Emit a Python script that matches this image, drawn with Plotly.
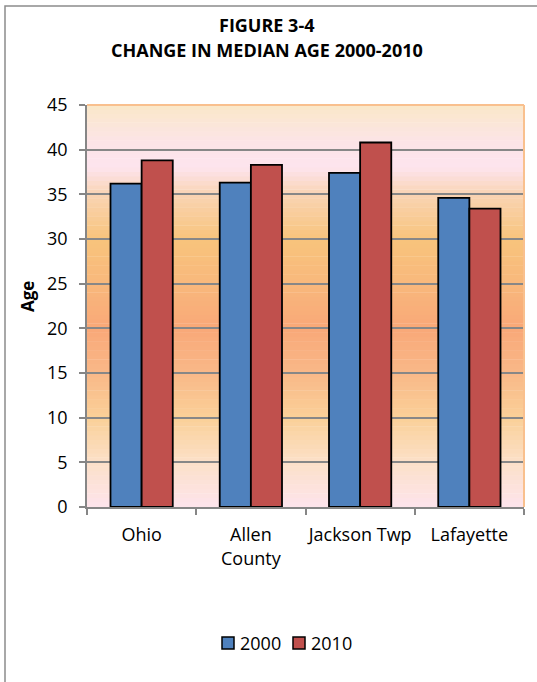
import plotly.graph_objects as go

categories = ["Ohio", "Allen<br>County", "Jackson Twp", "Lafayette"]
series_names = ["2000", "2010"]
age_2000 = [36.2, 36.3, 37.4, 34.6]
age_2010 = [38.8, 38.3, 40.8, 33.4]
y_ticks = [0, 5, 10, 15, 20, 25, 30, 35, 40, 45]

FONT = "Open Sans"
W, H = 537, 682
L, R, T, B = 87, 13, 105, 175
pw = W - L - R
ph = H - T - B
colors = ["#4F81BD", "#C0504D"]

def px_x(p):
    return (p - L) / pw

def px_y(p):
    return (H - B - p) / ph

fig = go.Figure()
for name, vals, c in zip(series_names, [age_2000, age_2010], colors):
    fig.add_trace(go.Bar(name=name, x=categories, y=vals, showlegend=False,
                         marker=dict(color=c, line=dict(color="#000000", width=1.8))))

# gradient background bands (style only)
stops = [(0, (253, 228, 236)), (5, (252, 224, 200)), (10, (250, 208, 152)),
         (15, (249, 184, 136)), (20, (249, 168, 120)), (25, (248, 184, 124)),
         (30, (248, 196, 124)), (35, (249, 212, 180)), (38, (253, 228, 238)),
         (41, (252, 228, 230)), (45, (250, 232, 200))]

def col(v):
    for (a, ca), (b, cb) in zip(stops[:-1], stops[1:]):
        if a <= v <= b:
            t = (v - a) / (b - a)
            c = [round(ca[i] + (cb[i] - ca[i]) * t) for i in range(3)]
            return "rgb(%d,%d,%d)" % tuple(c)
    return "rgb(250,232,200)"

shapes = []
step = 0.5
n = int(45 / step)
for i in range(n):
    y0 = i * step
    shapes.append(dict(type="rect", xref="paper", yref="y", x0=0, x1=1,
                       y0=y0, y1=y0 + step + 0.05, fillcolor=col(y0 + step / 2),
                       line=dict(width=0), layer="below"))
# plot area orange border (top and right)
shapes.append(dict(type="line", xref="paper", yref="paper", x0=0, x1=1, y0=1, y1=1,
                   line=dict(color="#F9C08E", width=2)))
shapes.append(dict(type="line", xref="paper", yref="paper", x0=1, x1=1, y0=0, y1=1,
                   line=dict(color="#F9C08E", width=2)))
# outer chart border
shapes.append(dict(type="rect", xref="paper", yref="paper",
                   x0=px_x(5), x1=px_x(W + 20), y0=px_y(H + 20), y1=px_y(6),
                   line=dict(color="#8C8C8C", width=1.5), fillcolor="rgba(0,0,0,0)"))

annotations = [
    dict(text="<b>FIGURE 3-4</b>", xref="paper", yref="paper",
         x=px_x(267), y=px_y(25), showarrow=False,
         xanchor="center", yanchor="middle", font=dict(size=18, family=FONT)),
    dict(text="<b>CHANGE IN MEDIAN AGE 2000-2010</b>", xref="paper", yref="paper",
         x=px_x(267), y=px_y(50), showarrow=False,
         xanchor="center", yanchor="middle", font=dict(size=18, family=FONT)),
    dict(text="<b>Age</b>", xref="paper", yref="paper", textangle=-90,
         x=px_x(27), y=px_y(297), showarrow=False,
         xanchor="center", yanchor="middle", font=dict(size=17, family=FONT)),
]

# manual legend (compact like the reference)
leg_x = [222, 293]
leg_y = 643
for name, c, lx in zip(series_names, colors, leg_x):
    shapes.append(dict(type="rect", xref="paper", yref="paper",
                       x0=px_x(lx), x1=px_x(lx + 12), y0=px_y(leg_y + 6), y1=px_y(leg_y - 6),
                       fillcolor=c, line=dict(color="#000000", width=1.5)))
    annotations.append(dict(text=name, xref="paper", yref="paper",
                            x=px_x(lx + 16), y=px_y(leg_y), showarrow=False,
                            xanchor="left", yanchor="middle",
                            font=dict(size=18, family=FONT)))

fig.update_layout(
    width=W, height=H,
    margin=dict(l=L, r=R, t=T, b=B),
    paper_bgcolor="white", plot_bgcolor="white",
    barmode="group", bargap=0.43, bargroupgap=0,
    font=dict(family=FONT, color="#000000", size=18),
    shapes=shapes,
    showlegend=False,
    annotations=annotations,
)
fig.update_xaxes(showline=True, linecolor="#868686", linewidth=1.5,
                 ticks="outside", tickson="boundaries", ticklen=6, tickcolor="#868686",
                 tickwidth=1.5, tickfont=dict(size=18, family=FONT), showgrid=False,
                 ticklabelstandoff=11, tickangle=0)
fig.update_yaxes(range=[0, 45], tickvals=y_ticks, showline=True, linecolor="#868686",
                 linewidth=1.5, ticks="outside", ticklen=6, tickcolor="#868686",
                 tickwidth=1.5, showgrid=True, gridcolor="#878787", gridwidth=1.5,
                 zeroline=False, tickfont=dict(size=18, family=FONT),
                 ticklabelstandoff=8)

fig.write_html("out.html")
